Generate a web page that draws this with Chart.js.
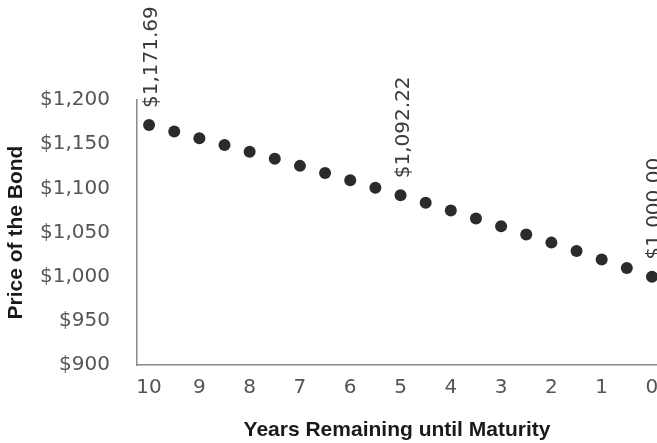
<!DOCTYPE html>
<html>
<head>
<meta charset="utf-8">
<script src="https://cdn.jsdelivr.net/npm/chart.js@4/dist/chart.umd.min.js"></script>
<style>
  html, body { margin: 0; padding: 0; background: #ffffff; }
  #wrap { width: 657px; height: 443px; position: relative; }
</style>
</head>
<body>
<div id="wrap"><canvas id="c" width="657" height="443"></canvas></div>
<script>
// ---- data ----
const yearsRemaining = [10, 9.5, 9, 8.5, 8, 7.5, 7, 6.5, 6, 5.5, 5, 4.5, 4, 3.5, 3, 2.5, 2, 1.5, 1, 0.5, 0];
const bondPrices = [1171.69, 1164.26, 1156.73, 1149.08, 1141.31, 1133.43, 1125.43, 1117.32, 1109.08, 1100.71,
                    1092.22, 1083.61, 1074.86, 1065.98, 1056.97, 1047.83, 1038.54, 1029.12, 1019.56, 1009.85, 1000.00];
const labelledYears = [10, 5, 0];
const xTickValues = [10, 9, 8, 7, 6, 5, 4, 3, 2, 1, 0];
const yTickValues = [900, 950, 1000, 1050, 1100, 1150, 1200];
const xTitle = 'Years Remaining until Maturity';
const yTitle = 'Price of the Bond';

function withCommas(intStr) {
  return intStr.replace(/\B(?=(\d{3})+(?!\d))/g, ',');
}
function money(v, decimals) {
  const s = v.toFixed(decimals);
  const parts = s.split('.');
  return '$' + withCommas(parts[0]) + (parts[1] ? '.' + parts[1] : '');
}

const points = yearsRemaining.map((x, i) => ({ x: x, y: bondPrices[i] }));

const labelPlugin = {
  id: 'rotLabels',
  afterDatasetsDraw(chart) {
    const meta = chart.getDatasetMeta(0);
    const ctx = chart.ctx;
    ctx.save();
    ctx.font = '20px "DejaVu Sans"';
    ctx.fillStyle = '#3a3a3a';
    ctx.textAlign = 'left';
    ctx.textBaseline = 'middle';
    yearsRemaining.forEach((yr, i) => {
      if (labelledYears.indexOf(yr) === -1) return;
      const el = meta.data[i];
      ctx.save();
      ctx.translate(el.x + 3, el.y - 17);
      ctx.rotate(-Math.PI / 2);
      ctx.fillText(money(bondPrices[i], 2), 0, 0);
      ctx.restore();
    });
    ctx.restore();
  }
};

new Chart(document.getElementById('c'), {
  type: 'scatter',
  data: {
    datasets: [{
      data: points,
      pointRadius: 6,
      pointHoverRadius: 6,
      pointBackgroundColor: '#2b2b2b',
      pointBorderWidth: 0,
      showLine: false,
      clip: false
    }]
  },
  options: {
    responsive: false,
    animation: false,
    events: [],
    layout: { autoPadding: false, padding: { top: 100, right: 0, left: 0, bottom: 0 } },
    plugins: { legend: { display: false }, tooltip: { enabled: false } },
    scales: {
      x: {
        type: 'linear',
        reverse: true,
        min: -0.1,
        max: 10.24,
        afterBuildTicks(scale) { scale.ticks = xTickValues.map(v => ({ value: v })); },
        afterFit(scale) { scale.height = 78; scale.paddingRight = 0; scale.paddingLeft = 0; },
        grid: { display: false, drawTicks: false },
        border: { display: true, color: '#8a8a8a', width: 1.5 },
        ticks: {
          padding: 11,
          color: '#555555',
          font: { family: 'DejaVu Sans', size: 20 },
          maxRotation: 0,
          autoSkip: false,
          callback: v => String(v)
        },
        title: {
          display: true,
          text: xTitle,
          color: '#1a1a1a',
          font: { family: 'Liberation Sans', size: 21, weight: 'bold' },
          padding: { top: 0, bottom: 0 }
        }
      },
      y: {
        type: 'linear',
        min: 900,
        max: 1200,
        afterBuildTicks(scale) { scale.ticks = yTickValues.map(v => ({ value: v })); },
        afterFit(scale) { scale.width = 137; },
        grid: { display: false, drawTicks: false },
        border: { display: true, color: '#8a8a8a', width: 1.5 },
        ticks: {
          padding: 27,
          color: '#555555',
          font: { family: 'DejaVu Sans', size: 20 },
          callback: v => money(v, 0)
        },
        title: {
          display: true,
          text: yTitle,
          color: '#1a1a1a',
          font: { family: 'Liberation Sans', size: 21, weight: 'bold' },
          padding: { top: 4, bottom: 0 }
        }
      }
    }
  },
  plugins: [labelPlugin]
});
</script>
</body>
</html>
